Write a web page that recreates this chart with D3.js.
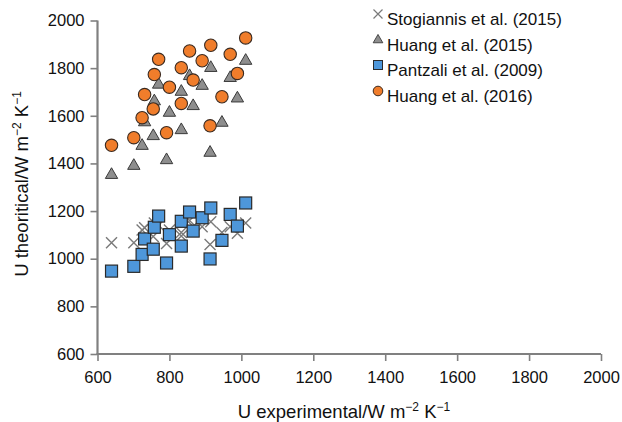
<!DOCTYPE html>
<html>
<head>
<meta charset="utf-8">
<script src="https://cdn.jsdelivr.net/npm/d3@7/dist/d3.min.js"></script>
<style>
  html, body { margin: 0; padding: 0; background: #fff; }
  svg { display: block; font-family: "Liberation Sans", Arial, Helvetica, sans-serif; }
</style>
</head>
<body>
<svg id="chart" width="622" height="422"></svg>
<script>
// Experimental overall heat transfer coefficients (shared by all four correlations)
const uExperimental = [639, 701, 724, 731, 755, 758, 770, 792, 800, 833, 833, 856, 866, 891, 913, 915, 946, 969, 989, 1012];

// Theoretical U predicted by each correlation
const stogiannis2015 = [1067, 1067, 1121, 1130, 1093, 1150, 1140, 1064, 1121, 1095, 1110, 1160, 1135, 1134, 1060, 1155, 1110, 1134, 1107, 1150];
const huang2015 = [1352, 1390, 1474, 1573, 1515, 1661, 1731, 1414, 1613, 1540, 1701, 1767, 1641, 1726, 1445, 1801, 1571, 1759, 1673, 1831];
const pantzali2009 = [948, 968, 1018, 1083, 1040, 1132, 1179, 982, 1101, 1053, 1157, 1196, 1116, 1172, 999, 1213, 1077, 1186, 1137, 1234];
const huang2016 = [1476, 1508, 1592, 1689, 1629, 1773, 1837, 1529, 1720, 1652, 1802, 1872, 1750, 1831, 1558, 1896, 1680, 1858, 1778, 1927];

const seriesNames = ["Stogiannis et al. (2015)", "Huang et al. (2015)", "Pantzali et al. (2009)", "Huang et al. (2016)"];
const xTicks = [600, 800, 1000, 1200, 1400, 1600, 1800, 2000];
const yTicks = [600, 800, 1000, 1200, 1400, 1600, 1800, 2000];

const svg = d3.select("#chart");
const margin = { left: 97.5, right: 21, top: 20.5, bottom: 68 };
const W = 622, H = 422;
const axisColor = "#808080";

const x = d3.scaleLinear().domain([600, 2000]).range([margin.left, W - margin.right]);
const y = d3.scaleLinear().domain([600, 2000]).range([H - margin.bottom, margin.top]);

// Axes
const xAxis = svg.append("g")
  .attr("transform", `translate(0,${y(600)})`)
  .call(d3.axisBottom(x).tickValues(xTicks).tickSize(7).tickPadding(8).tickFormat(d3.format("d")));
const yAxis = svg.append("g")
  .attr("transform", `translate(${x(600)},0)`)
  .call(d3.axisLeft(y).tickValues(yTicks).tickSize(7).tickPadding(6).tickFormat(d3.format("d")));

[xAxis, yAxis].forEach(g => {
  g.selectAll(".tick line").attr("stroke", axisColor).attr("stroke-width", 1.6);
  g.selectAll(".tick text").attr("fill", "#111").style("font-size", "16.5px")
    .style("font-family", '"Liberation Sans", Arial, sans-serif');
});
// Axis lines drawn as plain segments so they meet at the origin corner
xAxis.select(".domain").remove();
yAxis.select(".domain").remove();
svg.append("line").attr("x1", x(600) - 1).attr("x2", x(2000)).attr("y1", y(600)).attr("y2", y(600))
  .attr("stroke", axisColor).attr("stroke-width", 2.2);
svg.append("line").attr("x1", x(600)).attr("x2", x(600)).attr("y1", y(2000)).attr("y2", y(600) + 1)
  .attr("stroke", axisColor).attr("stroke-width", 2.2);
xAxis.selectAll(".tick text").attr("dy", "0.85em");

// Axis titles with superscript units
function unitLabel(sel, main) {
  sel.append("tspan").text(main + "/W m");
  sel.append("tspan").attr("baseline-shift", "super").style("font-size", "12px").text("\u22122");
  sel.append("tspan").text(" K");
  sel.append("tspan").attr("baseline-shift", "super").style("font-size", "12px").text("\u22121");
}
const xTitle = svg.append("text")
  .attr("x", 344).attr("y", 418)
  .attr("text-anchor", "middle").attr("fill", "#111").style("font-size", "18.5px");
unitLabel(xTitle, "U experimental");

const yTitle = svg.append("text")
  .attr("transform", "translate(28,184) rotate(-90)")
  .attr("text-anchor", "middle").attr("fill", "#111").style("font-size", "18.5px");
unitLabel(yTitle, "U theoritical");

// Marker painters
const crossHalf = 5.5;
function drawCross(g, cx, cy) {
  g.append("path")
    .attr("d", `M${cx - crossHalf},${cy - crossHalf}L${cx + crossHalf},${cy + crossHalf}M${cx - crossHalf},${cy + crossHalf}L${cx + crossHalf},${cy - crossHalf}`)
    .attr("stroke", "#7a7a7a").attr("stroke-width", 1.4).attr("fill", "none");
}
const triPath = d3.symbol().type(d3.symbolTriangle).size(66)();
const sqSide = 12;

const plot = svg.append("g");

// Stogiannis et al. (2015): grey crosses
const gCross = plot.append("g");
uExperimental.forEach((u, i) => drawCross(gCross, x(u), y(stogiannis2015[i])));

// Huang et al. (2015): grey triangles
plot.append("g").selectAll("path").data(uExperimental).join("path")
  .attr("d", triPath)
  .attr("transform", (d, i) => `translate(${x(d)},${y(huang2015[i])})`)
  .attr("fill", "#8e8e8e").attr("stroke", "#3a3a3a").attr("stroke-width", 1);

// Pantzali et al. (2009): blue squares
plot.append("g").selectAll("rect").data(uExperimental).join("rect")
  .attr("x", d => x(d) - sqSide / 2)
  .attr("y", (d, i) => y(pantzali2009[i]) - sqSide / 2)
  .attr("width", sqSide).attr("height", sqSide)
  .attr("fill", "#4e97da").attr("stroke", "#2a2a2a").attr("stroke-width", 1.2);

// Huang et al. (2016): orange circles
plot.append("g").selectAll("circle").data(uExperimental).join("circle")
  .attr("cx", d => x(d))
  .attr("cy", (d, i) => y(huang2016[i]))
  .attr("r", 6.2)
  .attr("fill", "#f07d2b").attr("stroke", "#3a2a20").attr("stroke-width", 1.1);

// Legend
const legend = svg.append("g").attr("transform", "translate(378,0)");
const rowY = [19, 45, 70, 96];
seriesNames.forEach((name, i) => {
  const cy = rowY[i];
  const g = legend.append("g");
  if (i === 0) {
    g.append("path").attr("d", "M-4.5,-9.5L4.5,-0.5M-4.5,-0.5L4.5,-9.5")
      .attr("transform", `translate(0,${cy})`)
      .attr("stroke", "#7a7a7a").attr("stroke-width", 1.2).attr("fill", "none");
  } else if (i === 1) {
    g.append("path").attr("d", d3.symbol().type(d3.symbolTriangle).size(40)())
      .attr("transform", `translate(0,${cy - 5})`)
      .attr("fill", "#8e8e8e").attr("stroke", "#3a3a3a").attr("stroke-width", 0.9);
  } else if (i === 2) {
    g.append("rect").attr("x", -4.5).attr("y", cy - 9.5).attr("width", 9).attr("height", 9)
      .attr("fill", "#4e97da").attr("stroke", "#2a2a2a").attr("stroke-width", 1);
  } else {
    g.append("circle").attr("cx", 0).attr("cy", cy - 5).attr("r", 4.8)
      .attr("fill", "#f07d2b").attr("stroke", "#3a2a20").attr("stroke-width", 1);
  }
  g.append("text").attr("x", 9).attr("y", cy + 6)
    .attr("fill", "#111").style("font-size", "17px").text(name);
});
</script>
</body>
</html>
